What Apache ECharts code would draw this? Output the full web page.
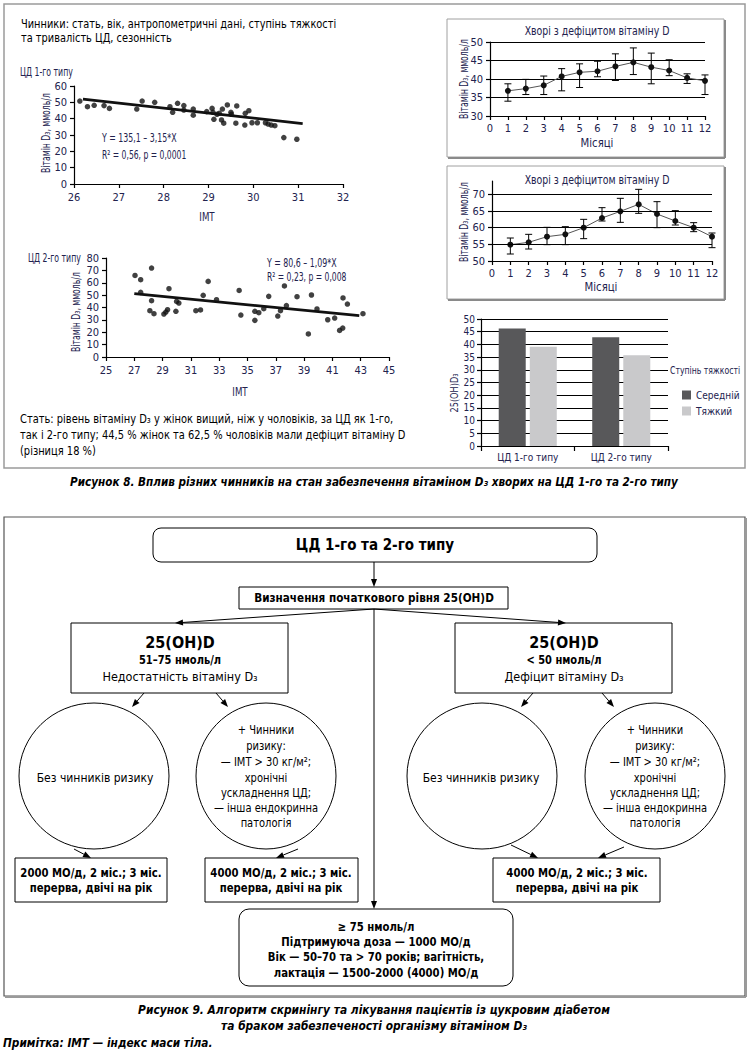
<!DOCTYPE html>
<html><head><meta charset="utf-8">
<script src="https://cdn.jsdelivr.net/npm/echarts@6/dist/echarts.min.js"></script>
<style>html,body{margin:0;padding:0;background:#fff}#c{width:749px;height:1057px}</style>
</head><body><div id="c"></div>
<script>
// ---------- DATA ----------
const scatter1Points = [[26.13,50.8],[26.30,47.3],[26.45,48.2],[26.67,48.0],[26.79,46.3],[27.40,45.9],[27.52,50.8],[27.80,50.0],[28.14,47.3],[28.20,43.9],[28.31,49.4],[28.45,48.0],[28.45,45.3],[28.66,45.9],[28.66,42.1],[28.96,44.3],[29.08,46.3],[29.10,43.9],[29.12,39.6],[29.19,42.7],[29.24,43.3],[29.29,39.2],[29.31,45.9],[29.34,37.2],[29.42,48.4],[29.50,43.9],[29.51,42.7],[29.61,37.2],[29.63,47.8],[29.81,36.1],[29.82,43.3],[29.90,44.9],[29.97,37.5],[30.09,37.5],[30.27,37.5],[30.33,36.7],[30.40,36.1],[30.48,35.7],[30.68,28.4],[30.97,27.4]];
const scatter1Trend = [[26.2,52.0],[31.1,37.0]];
const scatter2Points = [[27.05,65.9],[27.45,62.5],[27.45,52.2],[28.22,71.9],[28.22,45.5],[28.10,37.4],[28.39,35.0],[29.09,34.7],[29.23,36.3],[29.35,38.2],[29.45,55.2],[29.99,44.9],[30.15,43.6],[29.94,36.9],[31.35,37.4],[31.68,38.0],[31.87,49.8],[32.22,61.1],[32.81,46.3],[34.41,53.8],[34.53,33.9],[35.52,36.9],[35.52,29.6],[35.80,35.8],[36.15,39.0],[36.50,49.0],[37.14,33.1],[37.33,37.4],[37.61,57.4],[37.75,41.5],[38.50,48.7],[39.30,18.6],[39.52,50.1],[39.91,38.8],[40.67,30.1],[41.16,31.5],[41.51,21.5],[41.73,23.4],[41.75,47.7],[42.06,42.8],[43.16,35.0]];
const scatter2Trend = [[27.0,51.2],[42.9,33.4]];

const months = [1,2,3,4,5,6,7,8,9,10,11,12];
const line1Mean = [36.8,37.4,38.3,40.7,41.8,42.1,43.4,44.5,43.2,42.3,40.3,39.5];
const line1Low  = [34.0,35.8,35.8,36.8,37.7,40.6,39.6,41.2,38.7,40.9,38.8,35.8];
const line1High = [38.7,39.9,40.8,42.8,44.1,44.8,46.8,48.4,47.0,45.2,41.4,41.1];
const line2Mean = [54.9,55.6,57.3,58.0,60.0,62.9,64.9,67.0,64.1,62.0,60.0,57.3];
const line2Low  = [52.1,53.6,54.9,54.9,56.7,62.0,61.6,64.3,60.0,60.8,58.8,54.0];
const line2High = [56.9,58.0,60.1,60.3,62.5,66.0,68.8,71.5,67.8,65.1,61.5,58.4];
const line2Ticks = [50,55,60,65,70];

const barCategories = ['ЦД 1-го типу','ЦД 2-го типу'];
const barModerate = [46.3,42.8];
const barSevere = [39.1,35.7];
const barNames = ['Середній','Тяжкий'];

// ---------- STYLE ----------
const F = "'DejaVu Sans Condensed','Liberation Sans',sans-serif";
const NAVY = '#22224e';
const chart = echarts.init(document.getElementById('c'), null, {renderer:'svg'});

function T(x, y, text, o) {
  o = o || {};
  const size = o.size || 12, weight = o.weight || 'normal', st = o.style || 'normal';
  const al = o.align || 'left';
  return {type:'text', x:x, y:y, rotation:o.rot||0, scaleX:o.sx||1, silent:true, z:50,
    style:{text:text, fill:o.color||'#000', font: st+' '+weight+' '+size+'px '+F,
      fontFamily:F, fontSize:size, fontWeight:weight, fontStyle:st,
      align:al, textAlign:al, verticalAlign:'middle', textVerticalAlign:'middle'}};
}
function R(x,y,w,h,o){ o=o||{}; return {type:'rect', silent:true, z:40, shape:{x:x,y:y,width:w,height:h,r:o.r||0}, style:{fill:o.fill||'transparent', stroke:o.stroke||'#000', lineWidth:o.lw||1}}; }
function L(x1,y1,x2,y2,c,w){ return {type:'line', silent:true, z:40, shape:{x1:x1,y1:y1,x2:x2,y2:y2}, style:{stroke:c||'#000', lineWidth:w||1}}; }
function E(cx,cy,rx,ry){ return {type:'ellipse', silent:true, z:40, shape:{cx:cx,cy:cy,rx:rx,ry:ry}, style:{fill:'transparent', stroke:'#000', lineWidth:1}}; }
function A(x1,y1,x2,y2){
  const dx=x2-x1, dy=y2-y1, Ln=Math.hypot(dx,dy), ux=dx/Ln, uy=dy/Ln, hl=8, hw=3;
  const bx=x2-ux*hl, by=y2-uy*hl;
  return [L(x1,y1,bx,by), {type:'polygon', silent:true, z:41, shape:{points:[[x2,y2],[bx-uy*hw,by+ux*hw],[bx+uy*hw,by-ux*hw]]}, style:{fill:'#000'}}];
}

const axLine = {lineStyle:{color:'#000', width:1.2}};
const axTick = {show:true, length:4, lineStyle:{color:'#000', width:1.2}};
function lab(m, s){ return {color:NAVY, fontFamily:F, fontSize:s||11, margin:m}; }

function errRender(params, api){
  const x=api.value(0), lo=api.coord([x, api.value(1)]), hi=api.coord([x, api.value(2)]), w=3.5;
  const st={stroke:'#000', lineWidth:1};
  return {type:'group', children:[
    {type:'line', shape:{x1:lo[0],y1:lo[1],x2:hi[0],y2:hi[1]}, style:st},
    {type:'line', shape:{x1:lo[0]-w,y1:lo[1],x2:lo[0]+w,y2:lo[1]}, style:st},
    {type:'line', shape:{x1:hi[0]-w,y1:hi[1],x2:hi[0]+w,y2:hi[1]}, style:st}
  ]};
}

// ---------- GRAPHIC ----------
const g = [];
const P = Math.PI/2;
// top panel frame
g.push(R(4,4,741,464,{stroke:'#9a9a9a', lw:1.5}));
g.push(T(21,24,'Чинники: стать, вік, антропометричні дані, ступінь тяжкості',{size:13, sx:0.84}));
g.push(T(21,38,'та тривалість ЦД, сезонність',{size:13, sx:0.84}));
g.push(T(20,71,'ЦД 1-го типу',{size:12, sx:0.72, color:NAVY}));
g.push(T(46,133,'Вітамін D₃, ммоль/л',{size:11.5, sx:0.75, color:NAVY, align:'center', rot:P}));
g.push(T(102,138,'Y = 135,1 – 3,15*X',{size:12.5, sx:0.7, color:NAVY}));
g.push(T(102,155,'R² = 0,56, p = 0,0001',{size:12.5, sx:0.68, color:NAVY}));
g.push(T(207,217,'IMT',{size:12, sx:0.8, color:NAVY, align:'center'}));
g.push(T(28,257,'ЦД 2-го типу',{size:12, sx:0.72, color:NAVY}));
g.push(T(76,312,'Вітамін D₃, ммоль/л',{size:11.5, sx:0.75, color:NAVY, align:'center', rot:P}));
g.push(T(267,263,'Y = 80,6 – 1,09*X',{size:12.5, sx:0.7, color:NAVY}));
g.push(T(267,277,'R² = 0,23, p = 0,008',{size:12.5, sx:0.68, color:NAVY}));
g.push(T(240,392,'IMT',{size:12, sx:0.8, color:NAVY, align:'center'}));
g.push(T(20,419,'Стать: рівень вітаміну D₃ у жінок вищий, ніж у чоловіків, за ЦД як 1-го,',{size:12.5, sx:0.88}));
g.push(T(20,435,'так і 2-го типу; 44,5 % жінок та 62,5 % чоловіків мали дефіцит вітаміну D',{size:12.5, sx:0.88}));
g.push(T(20,451,'(різниця 18 %)',{size:12.5, sx:0.88}));
g.push(T(374,482,'Рисунок 8. Вплив різних чинників на стан забезпечення вітаміном D₃ хворих на ЦД 1-го та 2-го типу',{size:12.5, sx:0.93, weight:'bold', style:'italic', align:'center'}));
// right frames
g.push(R(447,19,277,138,{stroke:'#a0a0a0', lw:1}));
g.push(L(725,20,725,158,'#8a8a8a',2)); g.push(L(448,158,725,158,'#8a8a8a',2));
g.push(R(447,166,277,133,{stroke:'#a0a0a0', lw:1}));
g.push(L(725,167,725,300,'#8a8a8a',2)); g.push(L(448,300,725,300,'#8a8a8a',2));
g.push(T(597,31,'Хворі з дефіцитом вітаміну D',{size:12, sx:0.87, color:NAVY, align:'center'}));
g.push(T(463,79,'Вітамін D₃, ммоль/л',{size:12, sx:0.72, color:NAVY, align:'center', rot:P}));
g.push(T(597,143,'Місяці',{size:12.5, sx:0.9, color:NAVY, align:'center'}));
g.push(T(597,180,'Хворі з дефіцитом вітаміну D',{size:12, sx:0.87, color:NAVY, align:'center'}));
g.push(T(463,222,'Вітамін D₃, ммоль/л',{size:12, sx:0.72, color:NAVY, align:'center', rot:P}));
g.push(T(601,287,'Місяці',{size:12.5, sx:0.9, color:NAVY, align:'center'}));
g.push(T(454,393,'25(OH)D₃',{size:11, sx:0.83, color:NAVY, align:'center', rot:P}));
g.push(T(670,370,'Ступінь тяжкості',{size:11, sx:0.78, color:NAVY}));

// flowchart
g.push(R(4,517,741,479,{stroke:'#555', lw:1.2}));
g.push(L(746,518,746,997,'#9a9a9a',2)); g.push(L(5,997,746,997,'#9a9a9a',2));
g.push(R(153,528,444,34,{r:8}));
g.push(T(375,545,'ЦД 1-го та 2-го типу',{size:15, weight:'bold', align:'center'}));
A(374,562,374,587).forEach(e=>g.push(e));
g.push(R(239,587,269,22));
g.push(T(374,598,'Визначення початкового рівня 25(OH)D',{size:12, sx:0.97, weight:'bold', align:'center'}));
A(374,609,175,623).forEach(e=>g.push(e));
A(374,609,566,623).forEach(e=>g.push(e));
A(374,609,374,909).forEach(e=>g.push(e));
g.push(R(71,623,217,70)); g.push(R(455,623,217,70));
g.push(T(180,642,'25(OH)D',{size:16, weight:'bold', align:'center'}));
g.push(T(180,660,'51–75 нмоль/л',{size:12, sx:0.92, weight:'bold', align:'center'}));
g.push(T(180,676,'Недостатність вітаміну D₃',{size:12.5, align:'center'}));
g.push(T(564,642,'25(OH)D',{size:16, weight:'bold', align:'center'}));
g.push(T(564,660,'< 50 нмоль/л',{size:12, sx:0.92, weight:'bold', align:'center'}));
g.push(T(564,676,'Дефіцит вітаміну D₃',{size:12.5, align:'center'}));
A(144,693,132,707).forEach(e=>g.push(e));
A(216,693,228,707).forEach(e=>g.push(e));
A(533,693,521,707).forEach(e=>g.push(e));
A(602,693,614,707).forEach(e=>g.push(e));
g.push(E(94,776,75,73)); g.push(E(266,776,70,73));
g.push(E(482,776,75,73)); g.push(E(655,776,70,73));
g.push(T(95,778,'Без чинників ризику',{size:12, align:'center'}));
g.push(T(481,778,'Без чинників ризику',{size:12, align:'center'}));
const riskLines = ['+ Чинники','ризику:','— IMT > 30 кг/м²;','хронічні','ускладнення ЦД;','— інша ендокринна','патологія'];
const riskY = [730,746,762,778,793,808,823];
riskLines.forEach((t,i)=>{ g.push(T(266,riskY[i],t,{size:12, sx:0.92, align:'center'})); g.push(T(655,riskY[i],t,{size:12, sx:0.92, align:'center'})); });
A(74,849,91,858).forEach(e=>g.push(e));
A(298,849,276,858).forEach(e=>g.push(e));
A(511,845,538,858).forEach(e=>g.push(e));
A(624,847,598,858).forEach(e=>g.push(e));
g.push(R(15,858,152,44)); g.push(R(205,858,153,44)); g.push(R(493,858,167,44));
const doseOpt = {size:12.5, sx:0.9, weight:'bold', align:'center'};
g.push(T(91,873,'2000 МО/д, 2 міс.; 3 міс.',doseOpt));
g.push(T(91,888,'перерва, двічі на рік',doseOpt));
g.push(T(281,873,'4000 МО/д, 2 міс.; 3 міс.',doseOpt));
g.push(T(281,888,'перерва, двічі на рік',doseOpt));
g.push(T(577,873,'4000 МО/д, 2 міс.; 3 міс.',doseOpt));
g.push(T(577,888,'перерва, двічі на рік',doseOpt));
g.push(R(239,909,274,77,{r:10}));
g.push(T(376,927,'≥ 75 нмоль/л',doseOpt));
g.push(T(376,942,'Підтримуюча доза — 1000 МО/д',doseOpt));
g.push(T(376,957,'Вік — 50–70 та > 70 років; вагітність,',doseOpt));
g.push(T(376,973,'лактація — 1500–2000 (4000) МО/д',doseOpt));
g.push(T(374,1010,'Рисунок 9. Алгоритм скринінгу та лікування пацієнтів із цукровим діабетом',{size:12.5, sx:0.95, weight:'bold', style:'italic', align:'center'}));
g.push(T(374,1026,'та браком забезпеченості організму вітаміном D₃',{size:12.5, sx:0.95, weight:'bold', style:'italic', align:'center'}));
g.push(T(3,1043,'Примітка: IMT — індекс маси тіла.',{size:12.5, sx:0.94, weight:'bold', style:'italic'}));

// ---------- OPTION ----------
const option = {
  animation:false,
  backgroundColor:'#fff',
  grid:[
    {left:74, top:86, width:269, height:98},
    {left:106, top:258, width:283, height:99},
    {left:490, top:42, width:215, height:74},
    {left:492, top:181, width:220, height:80},
    {left:481, top:319, width:187, height:127}
  ],
  xAxis:[
    {gridIndex:0, type:'value', min:26, max:32, interval:1, axisLine:axLine, axisTick:axTick, splitLine:{show:false}, axisLabel:lab(8)},
    {gridIndex:1, type:'value', min:25, max:45, interval:2, axisLine:axLine, axisTick:axTick, splitLine:{show:false}, axisLabel:lab(8)},
    {gridIndex:2, type:'value', min:0, max:12, interval:1, axisLine:axLine, axisTick:axTick, splitLine:{show:false}, axisLabel:lab(7,11)},
    {gridIndex:3, type:'value', min:0, max:12, interval:1, axisLine:axLine, axisTick:axTick, splitLine:{show:false}, axisLabel:lab(7,11)},
    {gridIndex:4, type:'category', data:barCategories, axisLine:axLine, axisTick:{show:true, alignWithLabel:false, length:5, lineStyle:{color:'#000', width:1.2}}, axisLabel:lab(6,10)}
  ],
  yAxis:[
    {gridIndex:0, type:'value', min:0, max:60, interval:10, axisLine:{show:true, lineStyle:{color:'#000', width:1.2}}, axisTick:axTick, splitLine:{show:false}, axisLabel:lab(7)},
    {gridIndex:1, type:'value', min:0, max:80, interval:10, axisLine:{show:true, lineStyle:{color:'#000', width:1.2}}, axisTick:axTick, splitLine:{show:false}, axisLabel:lab(7)},
    {gridIndex:2, type:'value', min:30, max:50, interval:5, axisLine:{show:true, lineStyle:{color:'#000', width:1.2}}, axisTick:axTick, splitLine:{show:true, lineStyle:{color:'#000', width:1}}, axisLabel:lab(7,11)},
    {gridIndex:3, type:'value', min:50, max:74, interval:5, axisLine:{show:true, lineStyle:{color:'#000', width:1.2}},
      axisTick:Object.assign({customValues:line2Ticks}, axTick), splitLine:{show:false},
      axisLabel:Object.assign({customValues:line2Ticks, formatter:v=> (v%5===0? String(v):'')}, lab(7,11))},
    {gridIndex:4, type:'value', min:0, max:50, interval:5, axisLine:{show:true, lineStyle:{color:'#000', width:1.2}}, axisTick:axTick, splitLine:{show:true, lineStyle:{color:'#000', width:1}}, axisLabel:lab(6,10)}
  ],
  legend:{data:barNames, orient:'vertical', left:677, top:385, itemWidth:9, itemHeight:9, itemGap:6, icon:'rect', selectedMode:false,
    textStyle:{fontSize:10, fontFamily:F, color:NAVY}},
  graphic:{elements:g},
  series:[
    {type:'scatter', xAxisIndex:0, yAxisIndex:0, data:scatter1Points, symbolSize:5.5, itemStyle:{color:'#111'}, z:3},
    {type:'line', xAxisIndex:0, yAxisIndex:0, data:scatter1Trend, symbol:'none', lineStyle:{color:'#111', width:2.8}, z:2},
    {type:'scatter', xAxisIndex:1, yAxisIndex:1, data:scatter2Points, symbolSize:5.5, itemStyle:{color:'#111'}, z:3},
    {type:'line', xAxisIndex:1, yAxisIndex:1, data:scatter2Trend, symbol:'none', lineStyle:{color:'#111', width:2.8}, z:2},
    {type:'custom', xAxisIndex:2, yAxisIndex:2, renderItem:errRender, data:months.map((m,i)=>[m,line1Low[i],line1High[i]]), encode:{x:0,y:[1,2]}, z:2},
    {type:'line', xAxisIndex:2, yAxisIndex:2, data:months.map((m,i)=>[m,line1Mean[i]]), symbol:'circle', symbolSize:6, itemStyle:{color:'#111'}, lineStyle:{color:'#555', width:1}, z:3},
    {type:'custom', xAxisIndex:3, yAxisIndex:3, renderItem:errRender, data:months.map((m,i)=>[m,line2Low[i],line2High[i]]), encode:{x:0,y:[1,2]}, z:2},
    {type:'line', xAxisIndex:3, yAxisIndex:3, data:months.map((m,i)=>[m,line2Mean[i]]), symbol:'circle', symbolSize:6, itemStyle:{color:'#111'}, lineStyle:{color:'#555', width:1}, z:3,
      markLine:{silent:true, symbol:'none', label:{show:false}, lineStyle:{color:'#000', width:1, type:'solid'}, data:line2Ticks.slice(1).map(v=>({yAxis:v}))}},
    {name:barNames[0], type:'bar', xAxisIndex:4, yAxisIndex:4, data:barModerate, barWidth:27, barGap:'15%', itemStyle:{color:'#58585a'}, z:3},
    {name:barNames[1], type:'bar', xAxisIndex:4, yAxisIndex:4, data:barSevere, barWidth:27, barGap:'15%', itemStyle:{color:'#c9c9cb'}, z:3}
  ]
};
chart.setOption(option);
</script></body></html>
